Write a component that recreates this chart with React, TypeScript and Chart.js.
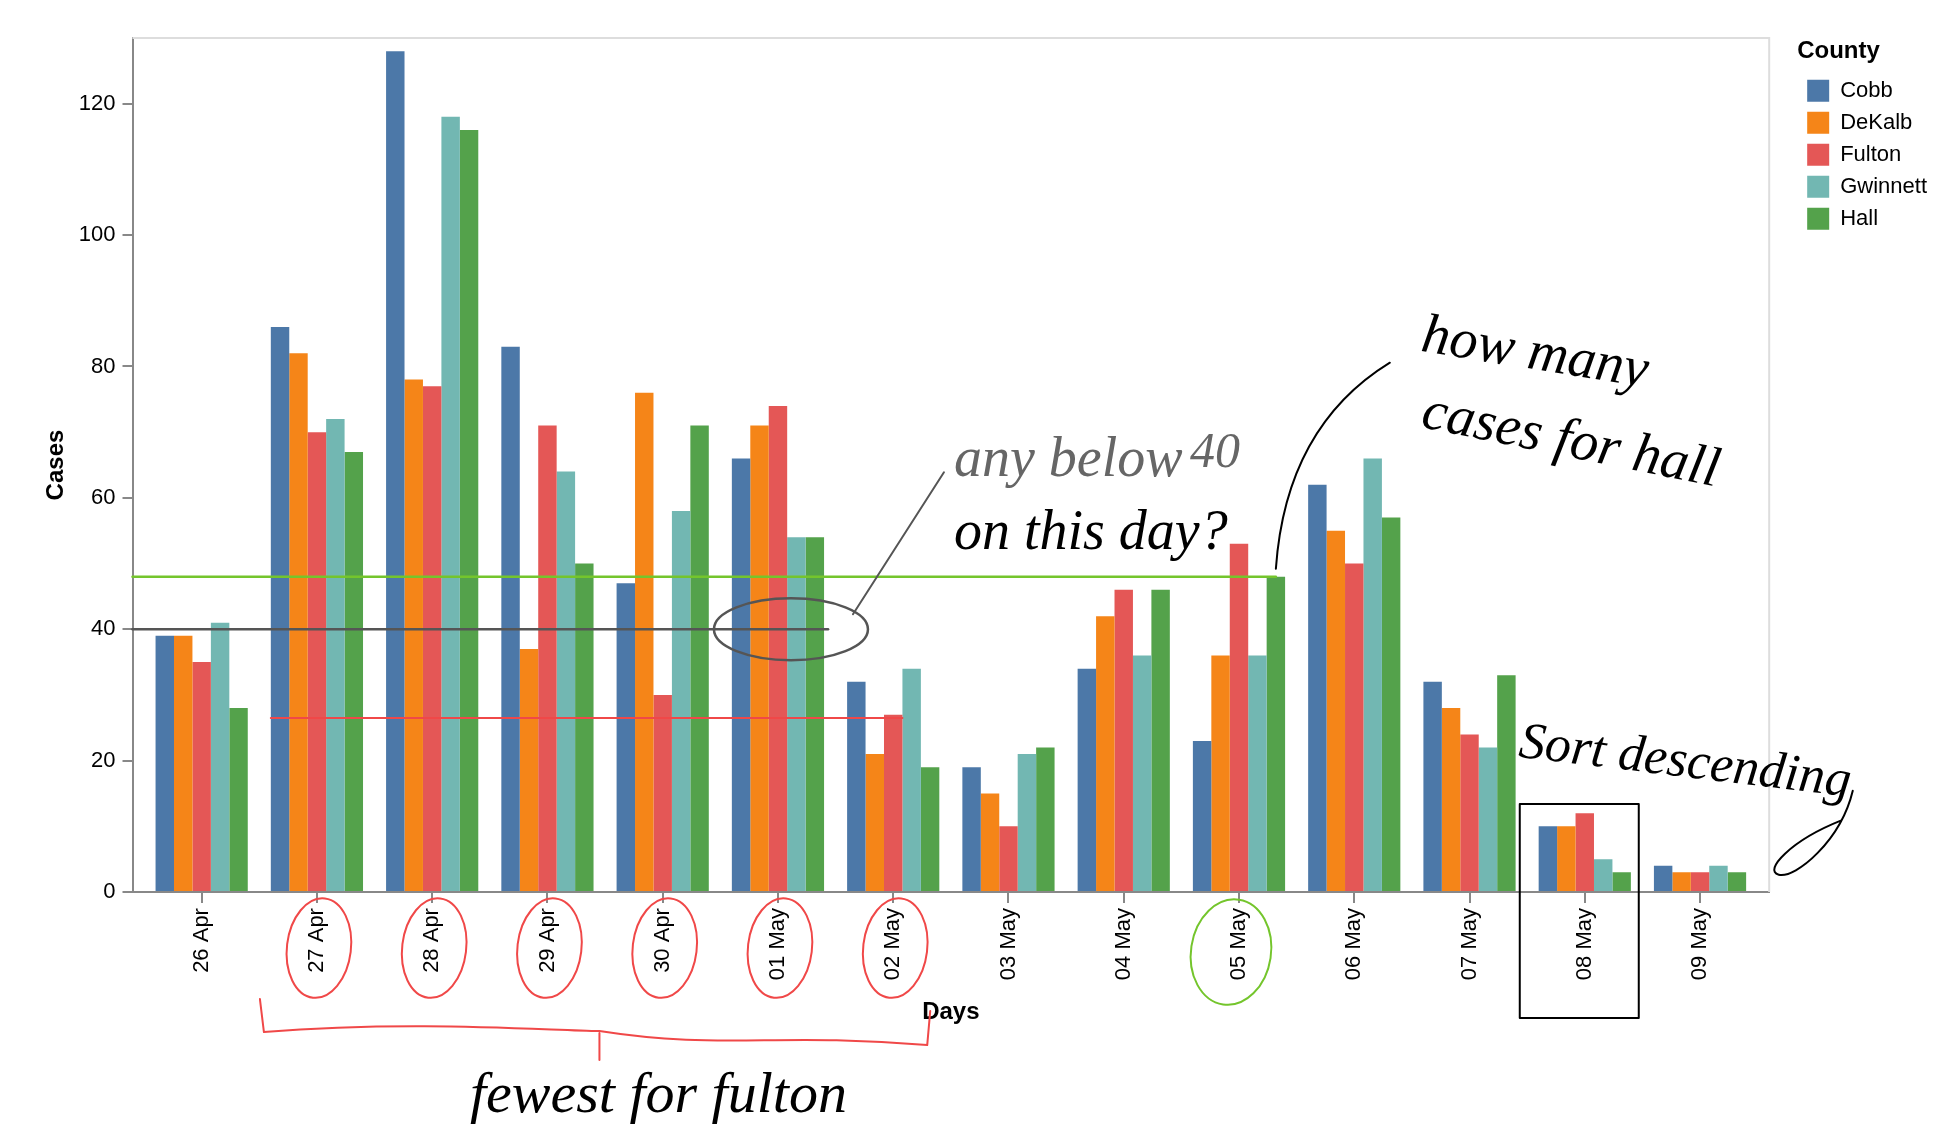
import { useEffect, useRef } from "react";
import { Chart, registerables } from "chart.js";

Chart.register(...registerables);

const days = [
  "26 Apr", "27 Apr", "28 Apr", "29 Apr", "30 Apr", "01 May", "02 May",
  "03 May", "04 May", "05 May", "06 May", "07 May", "08 May", "09 May",
];
const counties = ["Cobb", "DeKalb", "Fulton", "Gwinnett", "Hall"];
const countyColors = ["#4c78a8", "#f58518", "#e45756", "#72b7b2", "#54a24b"];

const cobb = [39, 86, 128, 83, 47, 66, 32, 19, 34, 23, 62, 32, 10, 4];
const dekalb = [39, 82, 78, 37, 76, 71, 21, 15, 42, 36, 55, 28, 10, 3];
const fulton = [35, 70, 77, 71, 30, 74, 27, 10, 46, 53, 50, 24, 12, 3];
const gwinnett = [41, 72, 118, 64, 58, 54, 34, 21, 36, 36, 66, 22, 5, 4];
const hall = [28, 67, 116, 50, 71, 54, 19, 22, 46, 48, 57, 33, 3, 3];
const series = [cobb, dekalb, fulton, gwinnett, hall];

const yTicks = [0, 20, 40, 60, 80, 100, 120];
const yMax = 130;
const groupShare = 0.8;
// band padding at both ends of the day axis (in day units)
const xMin = -0.6;
const xMax = days.length - 0.4;

const SANS = '"Liberation Sans", Arial, sans-serif';
const HAND = '"Liberation Serif", serif';

// light frame on the top and right side of the plot
const framePlugin = {
  id: "frame",
  beforeDatasetsDraw(chart: any) {
    const { ctx, chartArea: a } = chart;
    ctx.save();
    ctx.strokeStyle = "#dddddd";
    ctx.lineWidth = 2;
    ctx.beginPath();
    ctx.moveTo(a.left, a.top);
    ctx.lineTo(a.right, a.top);
    ctx.lineTo(a.right, a.bottom);
    ctx.stroke();
    ctx.restore();
  },
};

// the hand drawn notes on top of the chart
const notesPlugin = {
  id: "notes",
  afterDraw(chart: any) {
    const { ctx, chartArea: a } = chart;
    const xs = chart.scales.x;
    const ys = chart.scales.y;
    const cx = (i: number) => xs.getPixelForValue(i);
    const band = cx(1) - cx(0);
    const barW = (band * groupShare) / counties.length;
    const bar = (i: number, k: number) => cx(i) + (k - 2) * barW;
    const vy = (v: number) => ys.getPixelForValue(v);

    ctx.save();
    ctx.lineCap = "round";
    ctx.lineJoin = "round";

    const line = (x1: number, y1: number, x2: number, y2: number, color: string, w: number) => {
      ctx.strokeStyle = color;
      ctx.lineWidth = w;
      ctx.beginPath();
      ctx.moveTo(x1, y1);
      ctx.lineTo(x2, y2);
      ctx.stroke();
    };
    const ellipse = (x: number, y: number, rx: number, ry: number, rot: number, color: string, w: number) => {
      ctx.strokeStyle = color;
      ctx.lineWidth = w;
      ctx.beginPath();
      ctx.ellipse(x, y, rx, ry, rot, 0, Math.PI * 2);
      ctx.stroke();
    };
    const text = (s: string, x: number, y: number, size: number, color: string, rot = 0) => {
      ctx.save();
      ctx.translate(x, y);
      ctx.rotate(rot);
      ctx.font = `italic ${size}px ${HAND}`;
      ctx.fillStyle = color;
      ctx.textAlign = "left";
      ctx.textBaseline = "alphabetic";
      ctx.fillText(s, 0, 0);
      ctx.restore();
    };

    // reference lines
    line(a.left, vy(48), bar(9, 4), vy(48), "#74c52c", 2.5);
    line(a.left, vy(40), cx(5) + 2.5 * barW + 4, vy(40), "#555555", 2.5);
    line(cx(1) - 2.5 * barW, vy(26.5), bar(6, 2) + barW / 2, vy(26.5), "#f04848", 2);

    // "any below 40 on this day?"
    const g = cx(5);
    ellipse(g + 13, vy(40), 77, 31, 0, "#555555", 2.5);
    line(g + 75, vy(40) - 15, g + 166, vy(40) - 157, "#555555", 2);
    text("any below", g + 176, vy(40) - 153, 56, "#666666");
    text("40", g + 412, vy(40) - 162, 50, "#666666");
    text("on this day?", g + 176, vy(40) - 80, 56, "#000000");

    // "how many cases for hall"
    const hx = bar(9, 4);
    ctx.strokeStyle = "#000000";
    ctx.lineWidth = 2;
    ctx.beginPath();
    ctx.moveTo(hx, vy(48) - 8);
    ctx.quadraticCurveTo(hx + 10, vy(48) - 150, hx + 114, vy(48) - 214);
    ctx.stroke();
    text("how many", hx + 144, vy(48) - 226, 56, "#000000", 0.16);
    text("cases for hall", hx + 144, vy(48) - 150, 56, "#000000", 0.2);

    // "Sort descending"
    const sx = cx(12) + 6;
    text("Sort descending", sx - 73, vy(20) - 4, 52, "#000000", 0.12);
    ctx.strokeStyle = "#000000";
    ctx.lineWidth = 2;
    ctx.beginPath();
    ctx.moveTo(sx + 262, vy(20) + 30);
    ctx.bezierCurveTo(sx + 250, vy(20) + 80, sx + 205, vy(20) + 118, sx + 188, vy(20) + 114);
    ctx.bezierCurveTo(sx + 172, vy(20) + 110, sx + 200, vy(20) + 80, sx + 250, vy(20) + 60);
    ctx.stroke();
    ctx.strokeRect(sx - 71, vy(13.4), 119, a.bottom + 126 - vy(13.4));

    // circled day labels
    for (let i = 1; i <= 6; i++) {
      ellipse(cx(i) + 2, a.bottom + 56, 32, 50, 0.12, "#f04848", 2);
    }
    ellipse(cx(9) - 8, a.bottom + 60, 40, 53, 0.15, "#74c52c", 2);

    // bracket + "fewest for fulton"
    const b0 = cx(1) - 57;
    const b1 = cx(6) + 34;
    const bm = cx(3) + 52;
    ctx.strokeStyle = "#f04848";
    ctx.lineWidth = 2;
    ctx.beginPath();
    ctx.moveTo(b0, a.bottom + 107);
    ctx.lineTo(b0 + 4, a.bottom + 140);
    ctx.bezierCurveTo(b0 + 150, a.bottom + 128, bm - 60, a.bottom + 138, bm, a.bottom + 139);
    ctx.bezierCurveTo(bm + 120, a.bottom + 158, b1 - 150, a.bottom + 140, b1, a.bottom + 153);
    ctx.lineTo(b1 + 3, a.bottom + 119);
    ctx.stroke();
    line(bm, a.bottom + 141, bm, a.bottom + 168, "#f04848", 2);
    text("fewest for fulton", b0 + 210, a.bottom + 220, 58, "#000000");

    ctx.restore();
  },
};

export default function App() {
  const canvasRef = useRef<HTMLCanvasElement>(null);
  const chartRef = useRef<Chart | null>(null);

  useEffect(() => {
    if (!canvasRef.current) return;
    document.body.style.margin = "0";

    chartRef.current?.destroy();
    chartRef.current = new Chart(canvasRef.current, {
      type: "bar",
      data: {
        datasets: counties.map((name, k) => ({
          label: name,
          data: series[k].map((v, i) => ({ x: i, y: v })),
          backgroundColor: countyColors[k],
          borderWidth: 0,
          barPercentage: 1,
          categoryPercentage: groupShare,
        })),
      },
      options: {
        responsive: false,
        animation: false,
        font: { family: SANS },
        layout: { padding: { top: 38, left: 42, right: 0, bottom: 118 } },
        plugins: {
          tooltip: { enabled: false },
          legend: {
            position: "right",
            align: "start",
            labels: {
              boxWidth: 22,
              boxHeight: 22,
              padding: 10,
              color: "#000000",
              font: { family: SANS, size: 22 },
            },
            title: {
              display: true,
              text: "County",
              position: "start",
              color: "#000000",
              font: { family: SANS, size: 24, weight: "bold" },
              padding: { top: 1, bottom: 2 },
            },
          },
        },
        scales: {
          x: {
            type: "linear",
            min: xMin,
            max: xMax,
            offset: false,
            afterBuildTicks: (scale: any) => {
              scale.ticks = days.map((_, i) => ({ value: i }));
            },
            grid: {
              display: true,
              offset: false,
              drawOnChartArea: false,
              drawTicks: true,
              tickLength: 11,
              color: "#888888",
              lineWidth: 2,
            },
            border: { display: true, color: "#888888", width: 2 },
            ticks: {
              color: "#000000",
              font: { family: SANS, size: 22 },
              minRotation: 90,
              maxRotation: 90,
              autoSkip: false,
              padding: 5,
              callback: (v: any) => days[v] ?? "",
            },
            title: {
              display: true,
              text: "Days",
              color: "#000000",
              font: { family: SANS, size: 24, weight: "bold" },
              padding: { top: 13, bottom: 0 },
            },
          },
          y: {
            min: 0,
            max: yMax,
            afterBuildTicks: (scale: any) => {
              scale.ticks = yTicks.map((v) => ({ value: v }));
            },
            grid: {
              display: true,
              drawOnChartArea: false,
              drawTicks: true,
              tickLength: 10,
              color: "#888888",
              lineWidth: 2,
            },
            border: { display: true, color: "#888888", width: 2 },
            ticks: {
              color: "#000000",
              font: { family: SANS, size: 22 },
              padding: 7,
            },
            title: {
              display: true,
              text: "Cases",
              color: "#000000",
              font: { family: SANS, size: 24, weight: "bold" },
              padding: { top: 0, bottom: 1 },
            },
          },
          gap: {
            type: "linear",
            position: "right",
            display: true,
            grid: { display: false },
            border: { display: false },
            ticks: { display: false },
            afterFit: (scale: any) => {
              scale.width = 28;
            },
          },
        },
      },
      plugins: [framePlugin, notesPlugin],
    } as any);

    return () => {
      chartRef.current?.destroy();
    };
  }, []);

  return (
    <div style={{ width: "1937px", height: "1145px", background: "#ffffff" }}>
      <canvas ref={canvasRef} width={1937} height={1145} />
    </div>
  );
}
